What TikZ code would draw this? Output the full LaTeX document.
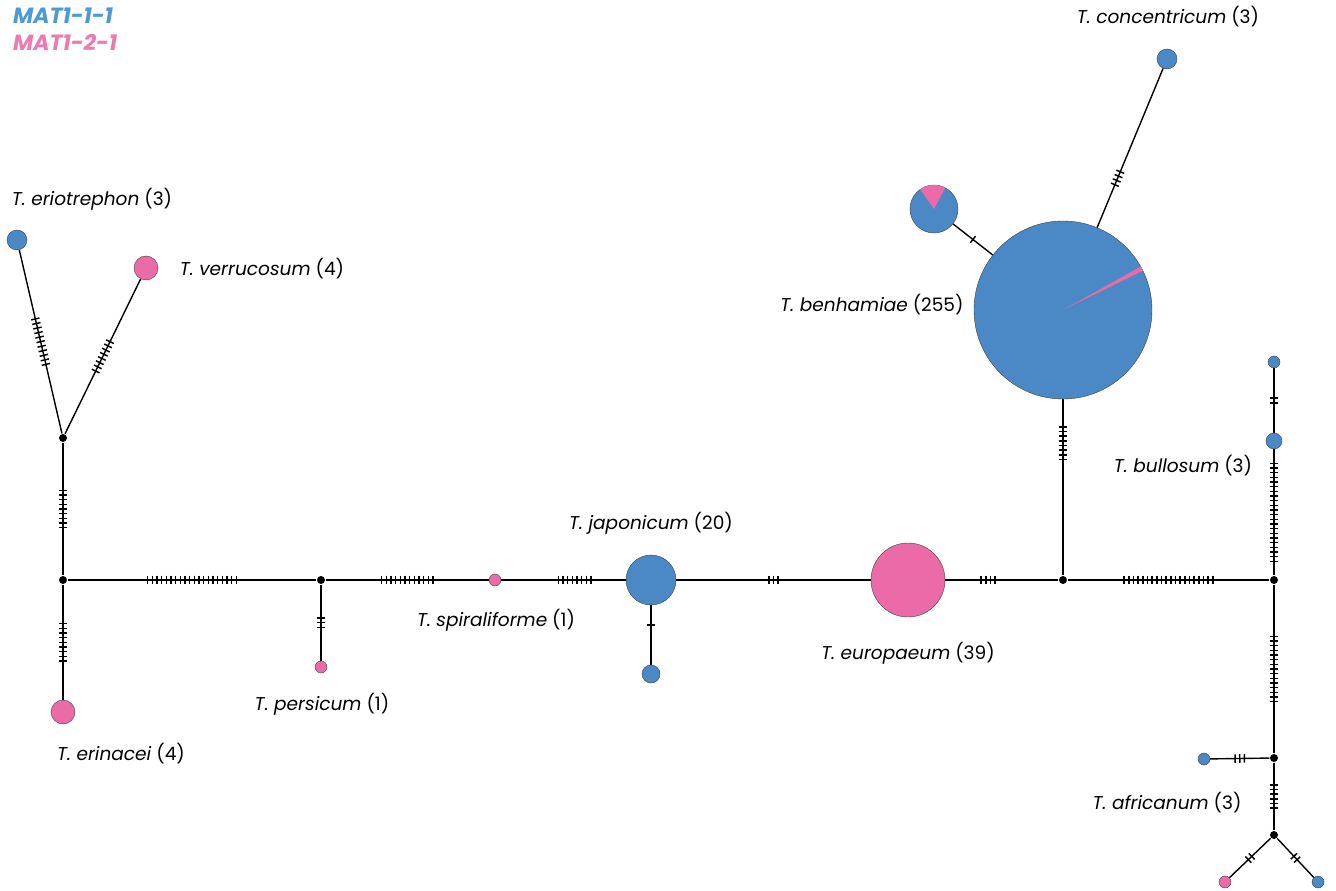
\documentclass[tikz,border=0pt]{standalone}
\usepackage{fontspec}
\setmainfont{Poppins}
\usetikzlibrary{calc}

\definecolor{hblue}{HTML}{4A88C6}
\definecolor{hpink}{HTML}{EA6BA7}
\definecolor{legblue}{HTML}{4A9AD6}
\definecolor{legpink}{HTML}{EE78B0}

% species label: italic name, upright count
\newcommand{\taxon}[2]{\textit{#1} (#2)}

% edge between two named nodes with #4 mutation ticks, centred at pos #1
\newcommand{\mutedge}[4][0.5]{%
  \draw (#2) -- (#3) coordinate[pos=#1] (mid);
  \foreach \i in {1,...,#4} {
    \coordinate (t) at ($(mid)!{(\i-(#4+1)/2)*3.5pt}!(#3)$);
    \draw[line width=1.1pt] ($(t)!3.2pt!90:(#3)$) -- ($(t)!3.2pt!-90:(#3)$);
  }
}

\tikzset{
  hap/.style={circle, draw=black!75, line width=0.3pt, inner sep=0pt, minimum size=#1*0.75pt},
  hapB/.style={hap=#1, fill=hblue},
  hapP/.style={hap=#1, fill=hpink},
  mv/.style={circle, fill=black, inner sep=0pt, minimum size=6pt},
  lab/.style={font=\fontsize{13.9}{16}\selectfont},
  leg/.style={anchor=west, font=\fontsize{16.5}{18}\selectfont\bfseries\itshape}
}

\begin{document}
\begin{tikzpicture}[x=0.75pt, y=-0.75pt, line width=1.05pt]
    \useasboundingbox (0,0) rectangle (1336,891);

    % legend
    \node[leg, text=legblue] (leg1) at (8,16) {MAT1-1-1};
    \node[leg, text=legpink] (leg2) at (8,42) {MAT1-2-1};

    % median vectors
    \node[mv] (j1) at (63,438) {};
    \node[mv] (j2) at (63,580) {};
    \node[mv] (j3) at (321,580) {};
    \node[mv] (j4) at (1063,580) {};
    \node[mv] (j5) at (1274,580) {};
    \node[mv] (j6) at (1274,758) {};
    \node[mv] (j7) at (1274,835) {};

    % haplotypes
    \node[hapB=20] (eri) at (17,240) {};
    \node[hapP=24] (ver) at (146,268) {};
    \node[hapP=24] (erin) at (63,712) {};
    \node[hapP=12] (per) at (321,667) {};
    \node[hapP=12] (spi) at (495,580) {};
    \node[hapB=50] (jap) at (651,580) {};
    \node[hapB=18] (jap2) at (651,674) {};
    \node[hapP=74] (eur) at (908,580) {};
    \node[hapB=178] (ben) at (1063,310) {};
    \node[hapB=48] (ben2) at (934,209) {};
    \node[hapB=20] (con) at (1167,59) {};
    \node[hapB=16] (bul) at (1274,441) {};
    \node[hapB=12] (bul2) at (1274,362) {};
    \node[hapB=12] (afr) at (1204,759) {};
    \node[hapP=12] (afr2) at (1225,882) {};
    \node[hapB=12] (afr3) at (1318,882) {};

    % pink shares of the mixed haplotypes
    \fill[hpink] (ben2.center) -- ++(-62:24) arc[start angle=-62, end angle=-125, radius=24] -- cycle;
    \fill[hpink] (ben.center) -- ++(-26.2:89) arc[start angle=-26.2, end angle=-29.2, radius=89] -- cycle;

    % connections with mutation steps
    \mutedge{j1}{eri}{11}
    \mutedge{j1}{ver}{8}
    \mutedge{j1}{j2}{9}
    \mutedge{j2}{erin}{9}
    \mutedge{j2}{j3}{20}
    \mutedge{j3}{per}{3}
    \mutedge{j3}{spi}{12}
    \mutedge[0.59]{spi}{jap}{8}
    \mutedge[0.33]{jap}{jap2}{1}
    \mutedge{jap}{eur}{3}
    \mutedge[0.38]{eur}{j4}{4}
    \mutedge[0.75]{j4}{ben}{8}
    \mutedge{ben}{ben2}{1}
    \mutedge[0.31]{ben}{con}{4}
    \mutedge{j4}{j5}{20}
    \mutedge{j5}{bul}{22}
    \mutedge{bul}{bul2}{2}
    \mutedge{j5}{j6}{15}
    \mutedge{j6}{afr}{3}
    \mutedge{j6}{j7}{6}
    \mutedge{j7}{afr2}{2}
    \mutedge{j7}{afr3}{2}

    % species labels
    \node[lab] (l-eri) at (92,199) {\taxon{T. eriotrephon}{3}};
    \node[lab] (l-ver) at (262,269) {\taxon{T. verrucosum}{4}};
    \node[lab] (l-erin) at (121,754) {\taxon{T. erinacei}{4}};
    \node[lab] (l-per) at (322,704) {\taxon{T. persicum}{1}};
    \node[lab] (l-spi) at (496,620) {\taxon{T. spiraliforme}{1}};
    \node[lab] (l-jap) at (651,523) {\taxon{T. japonicum}{20}};
    \node[lab] (l-eur) at (908,653) {\taxon{T. europaeum}{39}};
    \node[lab] (l-ben) at (872,305) {\taxon{T. benhamiae}{255}};
    \node[lab] (l-con) at (1168,17) {\taxon{T. concentricum}{3}};
    \node[lab] (l-bul) at (1183,466) {\taxon{T. bullosum}{3}};
    \node[lab] (l-afr) at (1167,803) {\taxon{T. africanum}{3}};
\end{tikzpicture}
\end{document}
